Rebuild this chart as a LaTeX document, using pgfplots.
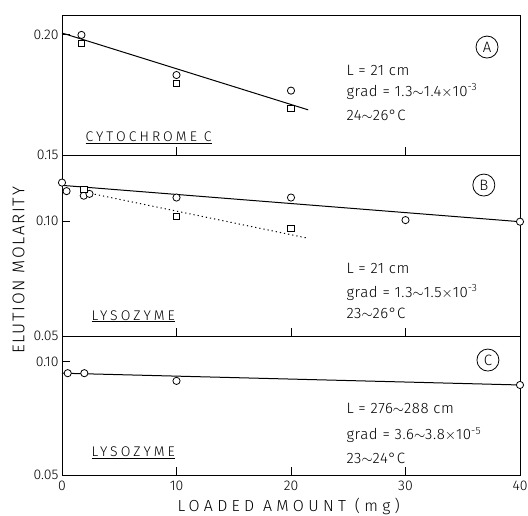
\documentclass[border=0pt]{standalone}
\usepackage{fontspec}
\setmainfont{Fira Sans Light}
\newfontfamily\capsfont[LetterSpace=22]{Fira Sans Light}
\newfontfamily\xcapsfont[LetterSpace=27]{Fira Sans Light}
\newfontfamily\ycapsfont[LetterSpace=10]{Fira Sans Light}
\newfontfamily\txtfont[LetterSpace=4]{Fira Sans Light}
\usepackage{pgfplots}
\pgfplotsset{compat=1.18}

\newcommand\tickfont{\fontsize{14}{14}\selectfont}
\newcommand\txt{\txtfont\fontsize{15}{17}\selectfont}
\newcommand\lbl[1]{\capsfont\fontsize{14}{16}\selectfont\underline{#1}}

\pgfplotsset{
  panel/.style={
    scale only axis, width=458pt, xmin=0, xmax=40, clip=false,
    axis line style={line width=0.9pt},
    tick style={black, line width=0.9pt},
    tick align=inside, major tick length=8pt,
    xtick pos=left, ytick pos=left,
    /pgf/number format/assume math mode=true,
    yticklabel style={font=\tickfont, /pgf/number format/fixed,
      /pgf/number format/fixed zerofill, /pgf/number format/precision=2},
    xticklabel style={font=\tickfont, yshift=-3pt},
  },
  circ/.style={only marks, mark=*, mark size=3.6pt,
    mark options={fill=white, draw=black, line width=0.8pt}},
  sq/.style={only marks, mark=square*, mark size=3.2pt,
    mark options={fill=white, draw=black, line width=0.8pt}},
  fit/.style={black, line width=1pt, no markers},
}
\tikzset{tag/.style={draw, circle, line width=0.8pt, minimum size=22pt, inner sep=0pt, font=\txt}}

\begin{document}
\begin{tikzpicture}
\path[use as bounding box] (-62pt,-41pt) rectangle (466pt,475pt);

% (A) cytochrome c
\begin{axis}[panel, at={(0pt,320pt)}, anchor=south west, height=140pt,
  ymin=0.15, ymax=0.2083, ytick={0.15,0.20}, xtick={10,30}, xticklabels={}]
\addplot[fit] coordinates {(0,0.2008) (21.5,0.1688)};
\addplot[circ] coordinates {(1.7,0.2000) (10,0.1833) (20,0.1768)};
\addplot[sq] coordinates {(1.7,0.1965) (10,0.1798) (20,0.1695)};
\node[tag] at (axis description cs:0.928,0.771) {A};
\node[anchor=base west, font=\txt] at (axis description cs:0.6135,0.571) {L = 21 cm};
\node[anchor=base west, font=\txt] at (axis description cs:0.6135,0.421) {grad = 1.3$\sim$1.4$\times$10\textsuperscript{-3}};
\node[anchor=base west, font=\txt] at (axis description cs:0.6135,0.243) {24$\sim$26°C};
\node[anchor=base west] at (axis description cs:0.0437,0.093) {\lbl{CYTOCHROME C}};
\end{axis}

% (B) lysozyme, L = 21 cm
\begin{axis}[panel, at={(0pt,139pt)}, anchor=south west, height=181pt,
  ymin=0.05, ymax=0.1287, ytick={0.05,0.10}, xtick={0,10,20,30,40}, xticklabels={}]
\addplot[fit] coordinates {(0,0.1155) (40,0.0997)};
\addplot[black, line width=1pt, dash pattern=on 1.2pt off 3pt, no markers]
  coordinates {(2.5,0.1120) (21.5,0.0925)};
\addplot[circ] coordinates {(0,0.1167) (0.4,0.1130) (1.9,0.1110) (2.4,0.1118)
  (10,0.1102) (20,0.1102) (30,0.1004) (40,0.0997)};
\addplot[sq] coordinates {(1.9,0.1138) (10,0.1019) (20,0.0967)};
\node[tag] at (axis description cs:0.921,0.834) {B};
\node[anchor=base west, font=\txt] at (axis description cs:0.6135,0.348) {L = 21 cm};
\node[anchor=base west, font=\txt] at (axis description cs:0.6135,0.215) {grad = 1.3$\sim$1.5$\times$10\textsuperscript{-3}};
\node[anchor=base west, font=\txt] at (axis description cs:0.6135,0.094) {23$\sim$26°C};
\node[anchor=base west] at (axis description cs:0.057,0.088) {\lbl{LYSOZYME}};
\node[rotate=90, font={\ycapsfont\fontsize{17}{17}\selectfont}] at (axis description cs:-0.095,0.362) {ELUTION MOLARITY};
\end{axis}

% (C) lysozyme, long column
\begin{axis}[panel, at={(0pt,0pt)}, anchor=south west, height=139pt,
  ymin=0.05, ymax=0.1113, ytick={0.05,0.10}, xtick={0,10,20,30,40}]
\addplot[fit] coordinates {(0,0.0949) (40,0.0897)};
\addplot[circ] coordinates {(0.5,0.0949) (1.95,0.0949) (10,0.0915) (40,0.0897)};
\node[tag] at (axis description cs:0.930,0.827) {C};
\node[anchor=base west, font=\txt] at (axis description cs:0.6135,0.446) {L = 276$\sim$288 cm};
\node[anchor=base west, font=\txt] at (axis description cs:0.6135,0.252) {grad = 3.6$\sim$3.8$\times$10\textsuperscript{-5}};
\node[anchor=base west, font=\txt] at (axis description cs:0.6135,0.086) {23$\sim$24°C};
\node[anchor=base west] at (axis description cs:0.057,0.132) {\lbl{LYSOZYME}};
\node[anchor=base, font={\xcapsfont\fontsize{16}{16}\selectfont}] at (axis description cs:0.495,-0.262) {LOADED AMOUNT (mg)};
\end{axis}
\end{tikzpicture}
\end{document}
